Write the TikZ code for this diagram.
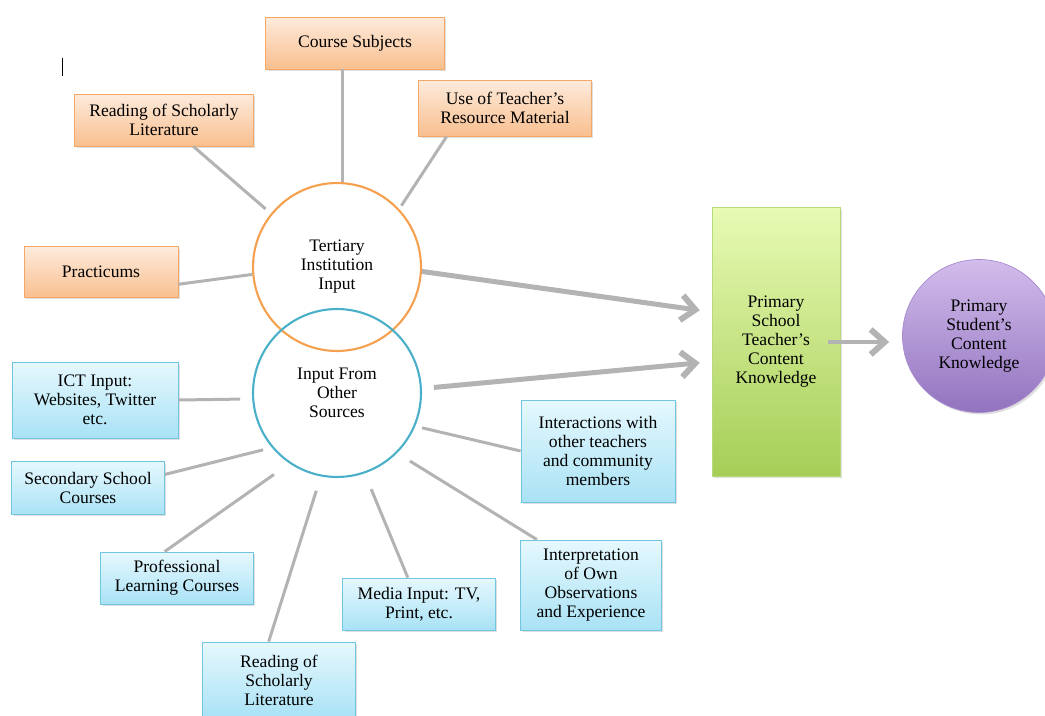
\documentclass[tikz,border=0pt]{standalone}
\usepackage{fontspec}
\setmainfont{Liberation Serif}
\usetikzlibrary{arrows.meta,shadows}

\definecolor{otop}{HTML}{FDEBDC}
\definecolor{obot}{HTML}{F9BF8F}
\definecolor{oline}{HTML}{F5A865}
\definecolor{btop}{HTML}{E6F8FE}
\definecolor{bbot}{HTML}{A9E2F5}
\definecolor{bline}{HTML}{70C6DF}
\definecolor{gtop}{HTML}{E8FAB4}
\definecolor{gbot}{HTML}{A5CE56}
\definecolor{gline}{HTML}{B9D97F}
\definecolor{ptop}{HTML}{D2BDEC}
\definecolor{pbot}{HTML}{9273BF}
\definecolor{pline}{HTML}{A88ACF}
\definecolor{ring1}{HTML}{F5A04E}
\definecolor{ring2}{HTML}{4AAFC8}
\definecolor{link}{HTML}{B3B3B3}

\tikzset{
  base/.style={rectangle, inner sep=0pt, align=center, font=\fontsize{10}{10.8}\selectfont,
    drop shadow={shadow xshift=0.4mm, shadow yshift=-0.4mm, opacity=0.25}},
  obox/.style={base, draw=oline, line width=0.5pt, top color=otop, bottom color=obot},
  bbox/.style={base, draw=bline, line width=0.5pt, top color=btop, bottom color=bbot},
  ring/.style={circle, minimum size=3.36cm, inner sep=0pt, line width=1.2pt, align=center,
    font=\fontsize{10}{10.8}\selectfont},
  spoke/.style={draw=link, line width=0.6mm},
  feed/.style={draw=link, line width=1mm, -{Straight Barb[length=2.8mm,width=5mm,line width=1.2mm]}}
}

\begin{document}
\begin{tikzpicture}[x=0.02cm,y=-0.02cm]
  \useasboundingbox (0,0) rectangle (1045,716);
  \draw[line width=0.4pt] (62,58) -- (62,76);

  % tertiary side
  \node[ring, draw=ring1] (tert) at (337,267) {Tertiary\\Institution\\Input};
  \node[obox, minimum width=3.58cm, minimum height=1.04cm] (course) at (355,43) {Course Subjects};
  \node[obox, minimum width=3.58cm, minimum height=1.04cm] (readT) at (164,120) {Reading of Scholarly\\Literature};
  \node[obox, minimum width=3.46cm, minimum height=1.12cm] (useT) at (505,108) {Use of Teacher’s\\Resource Material};
  \node[obox, minimum width=3.08cm, minimum height=1.02cm] (pract) at (101,272) {Practicums};

  % other sources
  \node[ring, draw=ring2] (others) at (337,393) {Input From\\Other\\Sources};
  \node[bbox, minimum width=3.32cm, minimum height=1.52cm] (ict) at (95,400) {ICT Input:\\Websites, Twitter\\etc.};
  \node[bbox, minimum width=3.06cm, minimum height=1.06cm] (sec) at (88,488) {Secondary School\\Courses};
  \node[bbox, minimum width=3.06cm, minimum height=1.04cm] (prof) at (177,578) {Professional\\Learning Courses};
  \node[bbox, minimum width=3.06cm, minimum height=1.52cm] (readO) at (279,680) {Reading of\\Scholarly\\Literature};
  \node[bbox, minimum width=3.06cm, minimum height=1.04cm] (media) at (419,604) {Media Input: TV,\\Print, etc.};
  \node[bbox, minimum width=2.82cm, minimum height=1.80cm] (interp) at (591,585) {Interpretation\\of Own\\Observations\\and Experience};
  \node[bbox, minimum width=3.08cm, minimum height=2.04cm] (inter) at (598,451) {Interactions with\\other teachers\\and community\\members};

  % outcomes
  \node[base, draw=gline, top color=gtop, bottom color=gbot, minimum width=2.56cm, minimum height=5.38cm] (teach) at (776,342) {Primary\\School\\Teacher’s\\Content\\Knowledge};
  \node[base, circle, draw=pline, top color=ptop, bottom color=pbot, minimum size=3.06cm] (stud) at (979,336) {Primary\\Student’s\\Content\\Knowledge};

  \draw[spoke] (course.south -| tert.86) -- (tert.86);
  \draw[spoke, shorten >=1.4mm] (readT.-42) -- (tert.141);
  \draw[spoke, shorten >=0.8mm] (useT.206.6) -- (tert.43);
  \draw[spoke] (pract.-9) -- (tert.185);

  \draw[spoke, shorten >=2.4mm] (ict.east) -- (others.184);
  \draw[spoke, shorten >=1.8mm] (sec.10) -- (others.220);
  \draw[spoke, shorten >=3.8mm] (prof.115) -- (others.236);
  \draw[spoke, shorten >=3mm] (readO.105) -- (others.259);
  \draw[spoke, shorten >=3.4mm] (media.113) -- (others.289);
  \draw[spoke, shorten >=3mm] (interp.140) -- (others.315);
  \draw[spoke, shorten >=1.4mm] (inter.west) -- (others.337);

  \draw[feed, shorten >=2.4mm] (tert.-3) -- (teach.155.6);
  \draw[feed, shorten <=2.4mm, shorten >=2.4mm] (others.3) -- (teach.197.4);
  \draw[feed, shorten >=2.6mm] ([xshift=-2.4mm]teach.east) -- (teach.east -| stud.west);
\end{tikzpicture}
\end{document}
